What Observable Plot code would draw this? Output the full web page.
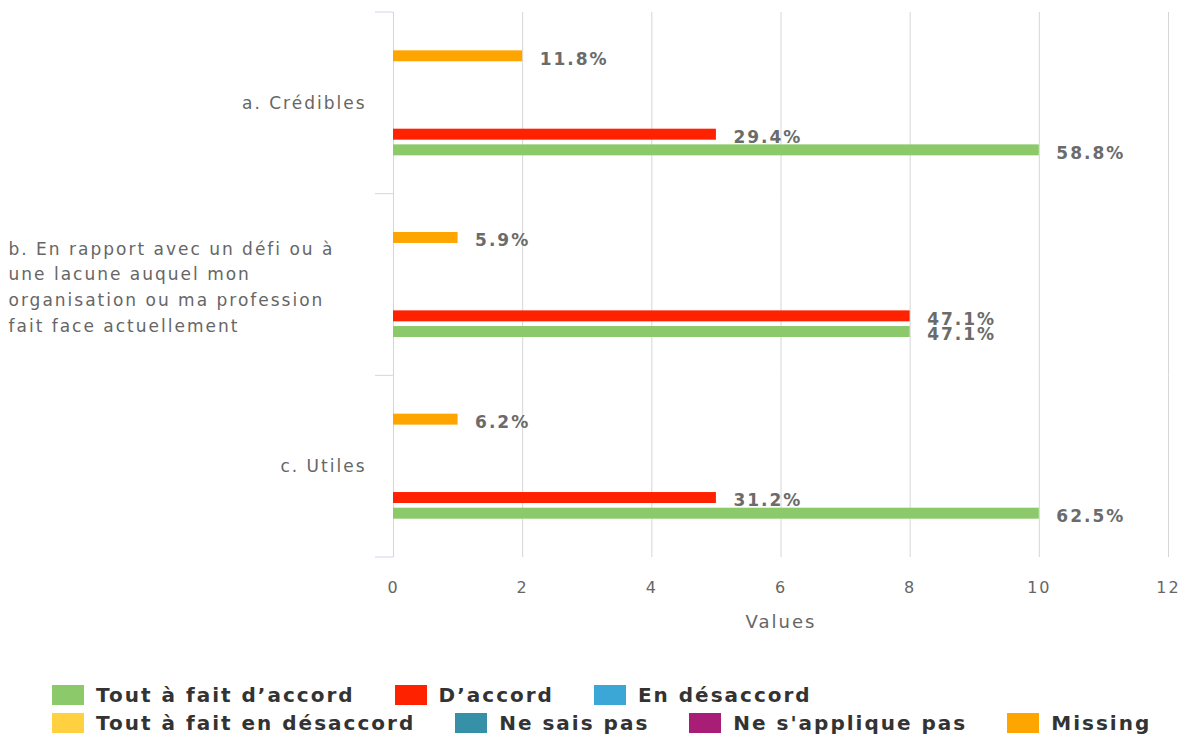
<!DOCTYPE html>
<html><head><meta charset="utf-8">
<script src="https://cdn.jsdelivr.net/npm/d3@7"></script>
<script src="https://cdn.jsdelivr.net/npm/@observablehq/plot@0.6"></script>
<style>
body{margin:0;background:#fff;font-family:"DejaVu Sans",sans-serif;}
#legend{padding-left:52px;margin-top:31px;}
.row{display:flex;align-items:center;height:28px;white-space:nowrap;}
.item{display:flex;align-items:center;flex-shrink:0;margin-right:40px;font-weight:bold;font-size:20px;letter-spacing:2px;color:#333;white-space:nowrap;}
.sw{width:32px;height:20px;margin-right:12px;flex-shrink:0;}
</style></head><body>
<div id="chart"></div><div id="legend"></div>
<script>
const categories = ["a. Crédibles", "b. En rapport avec un défi ou à\nune lacune auquel mon\norganisation ou ma profession\nfait face actuellement", "c. Utiles"];
const series = ["Tout à fait d’accord","D’accord","En désaccord","Tout à fait en désaccord","Ne sais pas","Ne s'applique pas","Missing"];
const colors = ["#8cc96b","#ff2200","#3ba7d6","#ffd03f","#3690a8","#a81e76","#ffa500"];
const toutAFaitDaccord = [10, 8, 10];
const daccord = [5, 8, 5];
const enDesaccord = [0, 0, 0];
const toutAFaitEnDesaccord = [0, 0, 0];
const neSaisPas = [0, 0, 0];
const neSappliquePas = [0, 0, 0];
const missing = [2, 1, 1];
const toutAFaitDaccordLabels = ["58.8%","47.1%","62.5%"];
const daccordLabels = ["29.4%","47.1%","31.2%"];
const missingLabels = ["11.8%","5.9%","6.2%"];
const xTicks = [0, 2, 4, 6, 8, 10, 12];
const xLabel = "Values";

const seriesValues = [toutAFaitDaccord, daccord, enDesaccord, toutAFaitEnDesaccord, neSaisPas, neSappliquePas, missing];
const seriesLabels = [toutAFaitDaccordLabels, daccordLabels, null, null, null, null, missingLabels];
const rows = [];
series.forEach((s, si) => categories.forEach((c, ci) => {
  rows.push({series: s, category: c, value: seriesValues[si][ci], label: seriesLabels[si] ? seriesLabels[si][ci] : ""});
}));

const W = 1186, ML = 393;
const multiLine = c => c.includes("\n");
const chart = Plot.plot({
  width: W, height: 650,
  marginLeft: ML, marginRight: 18, marginTop: 12, marginBottom: 93,
  style: {fontFamily: "DejaVu Sans", background: "#fff", color: "#666", letterSpacing: "2px", overflow: "visible"},
  x: {domain: [0, 12]},
  y: {domain: series.slice().reverse(), axis: null, paddingInner: 0.3, paddingOuter: 2.445, round: false},
  fy: {domain: categories, axis: null, padding: 0, round: false},
  color: {domain: series, range: colors},
  marks: [
    Plot.gridX(xTicks.filter(d => d > 0), {stroke: "#d6d6d6", strokeOpacity: 1}),
    Plot.ruleX([0], {stroke: "#ccd6eb"}),
    Plot.axisX({ticks: xTicks, tickSize: 0, tickPadding: 24, fontSize: 16, label: null}),
    Plot.axisX({ticks: [], tickSize: 0, fontSize: 18, label: xLabel, labelAnchor: "center", labelOffset: 70, labelArrow: "none"}),
    Plot.barX(rows.filter(d => d.value > 0), {x: "value", y: "series", fy: "category", fill: "series"}),
    Plot.text(rows.filter(d => d.value > 0), {x: "value", y: "series", fy: "category", text: "label", textAnchor: "start", dx: 17, dy: 3, fontWeight: "bold", fill: "#6b6b6b", fontSize: 17}),
    Plot.text(categories.filter(c => !multiLine(c)), {fy: d => d, text: d => d, frameAnchor: "left", textAnchor: "end", dx: -27, fontSize: 17, fill: "#666"}),
    Plot.text(categories.filter(multiLine), {fy: d => d, text: d => d, frameAnchor: "left", textAnchor: "start", dx: -(ML - 8), fontSize: 17, fill: "#666", lineHeight: 1.52})
  ]
});
document.getElementById("chart").appendChild(chart);

// small separator ticks on the category axis at group boundaries
const fy = chart.scale("fy");
const x0 = chart.scale("x").apply(0);
const [r0, r1] = fy.range;
const step = (r1 - r0) / fy.domain.length;
const svg = d3.select(chart);
for (let i = 0; i <= fy.domain.length; i++) {
  const yy = r0 + i * step;
  svg.append("line").attr("x1", x0 - 18).attr("x2", x0).attr("y1", yy).attr("y2", yy).attr("stroke", "#ccd6eb");
}

// legend
const legend = d3.select("#legend");
const rowsIdx = [[0, 1, 2], [3, 4, 5, 6]];
rowsIdx.forEach(r => {
  const row = legend.append("div").attr("class", "row");
  r.forEach(i => {
    const it = row.append("div").attr("class", "item");
    it.append("div").attr("class", "sw").style("background", colors[i]);
    it.append("span").text(series[i]);
  });
});
</script>
</body></html>
